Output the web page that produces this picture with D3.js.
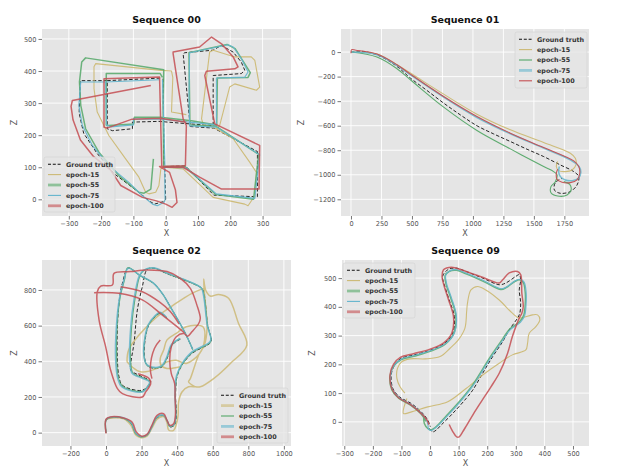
<!DOCTYPE html>
<html><head><meta charset="utf-8">
<script src="https://cdn.jsdelivr.net/npm/d3@7"></script>
<style>body{margin:0;background:#fff}</style>
</head><body><svg id="c" width="623" height="474"></svg>
<script>
const seriesNames = ["Ground truth","epoch-15","epoch-55","epoch-75","epoch-100"];
const seriesColors = ["#111111","#CCB974","#55A868","#64B5CD","#C44E52"];

// ---------- Sequence 00 ----------
const seq00_gt = [[0,0],[-3,102],[61,104],[149,13],[284,8],[284,149],[149,222],[76,227],[69,300],[54,454],[59,457],[147,465],[172,480],[209,459],[234,428],[245,402],[234,392],[147,386],[147,230],[76,235],[-21,243],[-93,241],[-103,241],[-103,220],[-165,214],[-181,220],[-181,370],[-17,378],null,[-8,376],[-5,102],null,[-181,370],[-264,370],[-268,269],[-254,206],[-213,144],[-161,81],[-99,34],[-48,-7],[-35,-15],[-6,-7],[0,0]];
const seq00_e15 = [[64,264],[18,272],[22,380],[18,400],[-15,402],[-217,423],[-222,413],[-222,345],[-212,272],[-176,199],[-124,126],[-83,69],[-62,22],[-52,17],[-31,22],[-21,43],[-15,95],[-5,100],[54,95],[147,6],[245,-15],[255,-20],[276,11],[281,84],[260,116],[209,189],[157,220],[116,235],[111,251],[136,459],[147,465],[214,444],[265,444],[276,433],[291,350],[281,340],[214,360],[198,350],[167,230],[157,220]];
const seq00_e55 = [[-38,126],[-46,32],[-67,19],[-83,22],[-145,74],[-207,147],[-248,220],[-263,293],[-267,366],[-260,428],[-248,441],[-6,404],[-8,300],[-6,102],[60,102],[155,15],[272,0],[288,140],[155,228],[75,232],[72,457],[190,483],[215,470],[240,430],[262,395],[255,380],[160,378],[158,232],[80,245],[-17,256],[-97,256],[-99,235],[-177,230],[-184,232],[-184,392],[-17,392],[-10,380]];
const seq00_e75 = [[-2,-4],[-3,100],[64,98],[157,17],[276,3],[291,139],[157,225],[74,229],[72,320],[74,457],[193,482],[209,475],[234,439],[255,397],[245,381],[157,378],[157,232],[80,240],[-15,250],[-90,250],[-100,252],[-100,232],[-170,226],[-183,232],[-186,366],[-20,373],null,[-10,372],[-2,100],null,[-186,366],[-263,366],[-269,293],[-258,230],[-227,168],[-176,105],[-114,53],[-72,11],[-41,-15],[-26,-20],[-5,-9],[-2,-4]];
const seq00_e100 = [[-46,355],[-289,308],[-293,290],[-287,248],[-264,185],[-223,133],[-171,92],[-139,43],[-72,6],[-31,-4],[0,-15],[20,-25],[35,-10],[30,30],[12,84],[-19,102],[61,105],[64,230],[54,251],[23,454],[23,459],[105,475],[142,506],[173,485],[209,444],[224,413],[214,407],[126,399],[121,386],[152,235],[291,168],[289,32],[173,32],[105,69],[54,100],[-12,100],[-19,381],[-191,376],[-191,225],[-182,222],[-104,250],[-17,253],[64,240]];

// ---------- Sequence 01 ----------
const seq01_gt = [[0,0],[104,5],[241,-35],[377,-117],[487,-212],[623,-313],[760,-416],[897,-512],[1034,-601],[1170,-667],[1307,-729],[1444,-792],[1581,-852],[1717,-920],[1827,-974],[1868,-1015],[1854,-1083],[1799,-1137],[1717,-1151],[1668,-1124],[1676,-1064],[1731,-1029]];
const seq01_e15 = [[0,0],[213,-16],[377,-103],[487,-171],[760,-343],[1033,-506],[1307,-634],[1580,-737],[1799,-824],[1840,-865],[1845,-920],[1813,-961],[1758,-974],[1703,-966],[1684,-933],[1695,-892]];
const seq01_e55 = [[0,0],[213,-41],[377,-136],[487,-226],[760,-449],[1033,-639],[1307,-789],[1580,-933],[1662,-974],[1690,-1001],[1676,-1056],[1640,-1097],[1640,-1146],[1695,-1173],[1772,-1165],[1805,-1124],[1794,-1078],[1745,-1056]];
const seq01_e75 = [[0,0],[213,-22],[377,-109],[487,-185],[760,-367],[1033,-533],[1307,-666],[1580,-783],[1799,-879],[1870,-933],[1885,-980],[1865,-1029],[1815,-1048],[1758,-1042],[1717,-1015],[1703,-974],[1709,-933]];
const seq01_e100 = [[0,-10],[5,20],[40,15],[213,-16],[377,-103],[487,-180],[760,-362],[1033,-525],[1307,-661],[1580,-778],[1827,-887],[1868,-933],[1876,-988],[1854,-1042],[1799,-1064],[1731,-1061],[1690,-1037],[1684,-988],[1695,-955]];

// ---------- Sequence 02 ----------
const seq02_gt = [[0,0],[0,69],[21,82],[99,79],[140,51],[165,-6],[193,-24],[230,-15],[258,32],[287,82],[324,94],[347,60],[358,32],[384,41],[395,88],[391,210],[399,313],[427,378],[483,444],[583,500],[592,519],[573,594],[545,800],[526,818],[339,893],[268,922],[232,916],[204,818],[176,687],[157,500],[139,388],[139,350],[204,313],[251,285],[204,238],[92,266],[73,313],[64,406],[64,594],[77,762],[92,837],[125,922],[193,880],[268,837],[320,775],[358,712],[399,641],[446,556],[489,463],null,[418,524],[371,491],[343,416],[315,369],[272,360],[230,378],[215,435],[221,528],[240,603],[277,650],[305,669],[343,641]];
const seq02_e15 = [[0,0],[0,72],[22,80],[99,77],[140,41],[165,-10],[193,-28],[230,-20],[258,25],[287,75],[324,90],[343,55],[352,15],[380,13],[395,45],[405,97],[408,172],[427,228],[464,257],[502,257],[530,257],[605,303],[699,388],[792,491],[745,612],[689,753],[633,775],[586,766],[560,800],[549,861],[552,800],[558,734],[568,584],[553,491],[521,435],[474,303],[464,285],[502,257],null,[118,397],[127,463],[193,556],[287,650],[380,716],[483,781],[549,809],null,[118,397],[146,369],[193,341],[287,360],[343,397],[395,406],[451,388],[526,444],[554,519],[545,594],[451,594],[395,556],[343,520],[324,463],[305,416],[309,378],[343,360],[418,369]];
const seq02_e55 = [[0,0],[0,70],[20,84],[98,81],[141,53],[166,-5],[194,-23],[231,-14],[258,33],[286,85],[323,96],[346,62],[357,35],[383,44],[393,90],[390,210],[398,315],[426,380],[482,447],[582,502],[591,521],[572,596],[543,801],[524,820],[338,895],[267,923],[215,912],[190,878],[162,744],[144,594],[138,406],[152,333],[206,308],[247,285],[240,268],[206,232],[92,260],[70,305],[60,406],[62,594],[80,762],[104,856],[122,925],[192,880],[266,838],[319,776],[357,713],[398,643],[445,558],[488,465],null,[416,526],[370,492],[342,418],[314,372],[271,363],[229,380],[213,436],[219,529],[239,604],[276,652],[304,672],[342,643]];
const seq02_e75 = [[0,0],[0,72],[18,85],[97,83],[142,55],[168,-3],[196,-22],[232,-12],[258,35],[285,87],[322,98],[345,64],[356,38],[382,46],[392,92],[388,210],[396,318],[425,383],[480,450],[580,505],[590,523],[570,598],[540,803],[522,822],[337,898],[266,925],[210,910],[185,875],[157,744],[139,594],[133,406],[148,331],[204,305],[245,283],[238,266],[204,228],[88,257],[66,303],[54,406],[58,594],[77,762],[101,856],[125,922],[190,882],[265,840],[318,778],[356,715],[397,645],[444,560],[487,468],null,[415,528],[368,494],[340,420],[312,374],[270,366],[228,383],[212,438],[218,530],[238,606],[275,655],[303,675],[340,646]];
const seq02_e100 = [[0,-5],[0,75],[24,88],[99,82],[146,60],[170,4],[200,-20],[230,-10],[258,41],[287,97],[324,106],[343,69],[358,41],[380,50],[390,97],[388,200],[386,275],[367,331],[358,406],[367,481],[395,538],[437,556],[459,541],[483,566],[521,612],[530,640],[511,715],[474,809],[418,865],[343,903],[230,912],[139,903],[45,893],[36,828],[-30,822],[-49,790],[-39,631],[-2,481],[26,350],[64,247],[92,219],[204,200],[223,228],[251,275],[242,303],[180,330],null,[-67,785],[73,781],[204,744],[317,659],[399,594],[440,560],null,[82,818],[204,790],[298,734],[360,680],[410,610],null,[305,519],[272,472],[249,360],[258,303]];

// ---------- Sequence 09 ----------
const seq09_gt = [[-2,-23],[9,-35],[21,-29],[38,-12],[80,30],[126,81],[149,110],[184,169],[219,227],[254,279],[277,320],[306,361],[314,378],[317,413],[312,459],[317,494],[312,512],[300,506],[265,483],[242,477],[184,500],[126,523],[91,535],[62,529],[44,506],[50,477],[67,424],[85,366],[79,308],[50,273],[3,250],[-55,233],[-101,221],[-124,198],[-136,163],[-130,116],[-107,87],[-66,64],[-31,35],[-8,6],[1,-17]];
const seq09_e15 = [[-81,81],[-93,29],[-70,33],[-8,52],[62,70],[126,116],[184,163],[242,204],[288,233],[335,250],[341,273],[347,308],[370,331],[384,355],[376,372],[358,372],[312,361],[288,378],[242,424],[195,459],[166,471],[143,459],[131,413],[128,384],[122,326],[99,285],[70,256],[35,227],[-17,219],[-70,219],[-99,209],[-114,186],[-116,151],[-105,122],[-88,100]];
const seq09_e55 = [[-22,23],[-20,-6],[-8,-23],[3,-28],[18,-20],[58,22],[108,77],[148,127],[183,182],[218,237],[253,287],[278,322],[313,348],[328,372],[333,410],[333,450],[326,485],[313,494],[298,489],[268,468],[248,460],[188,488],[128,514],[93,527],[68,524],[53,509],[56,479],[73,429],[90,369],[84,309],[53,270],[3,246],[-57,228],[-102,216],[-128,193],[-140,158],[-134,112],[-110,82],[-68,58],[-32,28],[-14,2]];
const seq09_e75 = [[-6,-26],[5,-30],[20,-20],[60,20],[110,75],[150,125],[185,180],[220,235],[255,285],[282,322],[316,346],[331,370],[336,410],[336,452],[329,486],[316,496],[300,492],[270,471],[250,463],[190,490],[130,516],[95,529],[70,526],[55,511],[58,481],[75,431],[92,371],[86,311],[55,273],[5,249],[-55,231],[-100,219],[-126,196],[-138,161],[-132,114],[-108,84],[-66,60],[-30,30],[-10,0],[-6,-26]];
const seq09_e100 = [[67,-9],[79,-33],[93,-52],[102,-52],[114,-35],[128,-12],[160,41],[190,87],[213,122],[242,169],[271,238],[288,297],[312,361],[321,378],[326,401],[321,448],[317,512],[306,523],[277,518],[254,494],[242,483],[186,502],[126,523],[81,537],[58,535],[47,529],[42,506],[48,477],[65,424],[82,366],[76,308],[48,275],[0,253],[-58,237],[-104,224],[-128,200],[-140,163],[-133,114],[-110,84],[-68,60],[-34,32],[-10,5],[-4,-10]];

// tick labels
const seq00_xticks = [-300,-200,-100,0,100,200,300], seq00_yticks = [0,100,200,300,400,500];
const seq01_xticks = [0,250,500,750,1000,1250,1500,1750], seq01_yticks = [-1200,-1000,-800,-600,-400,-200,0];
const seq02_xticks = [-200,0,200,400,600,800,1000], seq02_yticks = [0,200,400,600,800];
const seq09_xticks = [-300,-200,-100,0,100,200,300,400,500], seq09_yticks = [0,100,200,300,400,500];

const smooth = d3.curveCatmullRom.alpha(0.5);
const panels = [
 {title:"Sequence 00", r:[42,29,291,216], xd:[-383,388], yd:[-52,531], xt:seq00_xticks, yt:seq00_yticks,
  data:[seq00_gt,seq00_e15,seq00_e55,seq00_e75,seq00_e100], leg:[44,157,71,55], thick:[2,4], zx:15, curve:d3.curveLinear},
 {title:"Sequence 01", r:[341,29,589,216], xd:[-82,1952], yd:[-1336,188], xt:seq01_xticks, yt:seq01_yticks,
  data:[seq01_gt,seq01_e15,seq01_e55,seq01_e75,seq01_e100], leg:[515,32,72,56], thick:[3], zx:302, curve:smooth},
 {title:"Sequence 02", r:[42,260,291,446], xd:[-360,1040], yd:[-75,968], xt:seq02_xticks, yt:seq02_yticks,
  data:[seq02_gt,seq02_e15,seq02_e55,seq02_e75,seq02_e100], leg:[217,388,71,55], thick:[1,3,4], zx:15, curve:smooth},
 {title:"Sequence 09", r:[342,260,589,446], xd:[-308,556], yd:[-84,563], xt:seq09_xticks, yt:seq09_yticks,
  data:[seq09_gt,seq09_e15,seq09_e55,seq09_e75,seq09_e100], leg:[343,263,72,55], thick:[2,4], zx:313, curve:smooth}
];

const svg = d3.select("#c");
const fmt = v => String(v).replace("-","\u2212");
const FONT = "DejaVu Sans, Verdana, sans-serif";

panels.forEach((p,i) => {
  const [x0,y0,x1,y1] = p.r;
  const x = d3.scaleLinear().domain(p.xd).range([x0,x1]);
  const y = d3.scaleLinear().domain(p.yd).range([y1,y0]);
  const g = svg.append("g");
  g.append("rect").attr("x",x0).attr("y",y0).attr("width",x1-x0).attr("height",y1-y0).attr("fill","#E5E5E5");
  g.selectAll(null).data(p.xt).enter().append("line")
    .attr("x1",d=>x(d)).attr("x2",d=>x(d)).attr("y1",y0).attr("y2",y1)
    .attr("stroke","#fff").attr("stroke-width",0.9);
  g.selectAll(null).data(p.yt).enter().append("line")
    .attr("y1",d=>y(d)).attr("y2",d=>y(d)).attr("x1",x0).attr("x2",x1)
    .attr("stroke","#fff").attr("stroke-width",0.9);
  const xa = g.append("g").attr("transform",`translate(0,${y1})`)
    .call(d3.axisBottom(x).tickValues(p.xt).tickFormat(fmt).tickSize(3.5).tickPadding(2));
  const ya = g.append("g").attr("transform",`translate(${x0},0)`)
    .call(d3.axisLeft(y).tickValues(p.yt).tickFormat(fmt).tickSize(3.5).tickPadding(2));
  [xa,ya].forEach(a => {
    a.select(".domain").remove();
    a.selectAll("line").attr("stroke","#555").attr("stroke-width",0.8);
    a.selectAll("text").attr("fill","#555").style("font-family",FONT).style("font-size","6.6px");
  });
  const cid = "clip"+i;
  svg.append("clipPath").attr("id",cid).append("rect").attr("x",x0).attr("y",y0).attr("width",x1-x0).attr("height",y1-y0);
  const lg = g.append("g").attr("clip-path",`url(#${cid})`);
  const line = d3.line().defined(d=>d!==null).x(d=>x(d[0])).y(d=>y(d[1])).curve(p.curve);
  p.data.forEach((s,k) => {
    const thick = p.thick.includes(k);
    lg.append("path").datum(s).attr("d",line).attr("fill","none")
      .attr("stroke",seriesColors[k])
      .attr("stroke-width", k===0 ? 1.0 : (thick?1.5:1.1))
      .attr("stroke-opacity", k===0 ? 0.9 : (thick?0.85:0.95))
      .attr("stroke-dasharray", k===0 ? "3.5,2" : null)
      .attr("stroke-linejoin","round");
  });
  g.append("text").attr("x",(x0+x1)/2).attr("y",y0-6).attr("text-anchor","middle")
    .style("font-family",FONT).style("font-size","9.5px").style("font-weight","bold").attr("fill","#111").text(p.title);
  g.append("text").attr("x",(x0+x1)/2).attr("y",y1+20).attr("text-anchor","middle")
    .style("font-family",FONT).style("font-size","8px").attr("fill","#555").text("X");
  g.append("text").attr("transform",`translate(${p.zx+2},${(y0+y1)/2}) rotate(-90)`).attr("text-anchor","middle")
    .style("font-family",FONT).style("font-size","8px").attr("fill","#555").text("Z");
  const [lx,ly,lw,lh] = p.leg;
  const L = g.append("g");
  L.append("rect").attr("x",lx).attr("y",ly).attr("width",lw).attr("height",lh).attr("rx",2)
    .attr("fill","#E5E5E5").attr("fill-opacity",0.8).attr("stroke","#d0d0d0").attr("stroke-width",0.6);
  seriesNames.forEach((nm,k) => {
    const yy = ly + 7.2 + k*10.4;
    const thick = p.thick.includes(k);
    L.append("line").attr("x1",lx+4).attr("x2",lx+17).attr("y1",yy).attr("y2",yy)
      .attr("stroke",seriesColors[k]).attr("stroke-width", thick?2.8:1.1)
      .attr("stroke-opacity", thick?0.6:1).attr("stroke-dasharray", k===0?"3,1.8":null);
    L.append("text").attr("x",lx+22).attr("y",yy+2.3).style("font-family",FONT)
      .style("font-size","6.4px").style("font-weight","bold").attr("fill","#333").text(nm);
  });
});
</script></body></html>
